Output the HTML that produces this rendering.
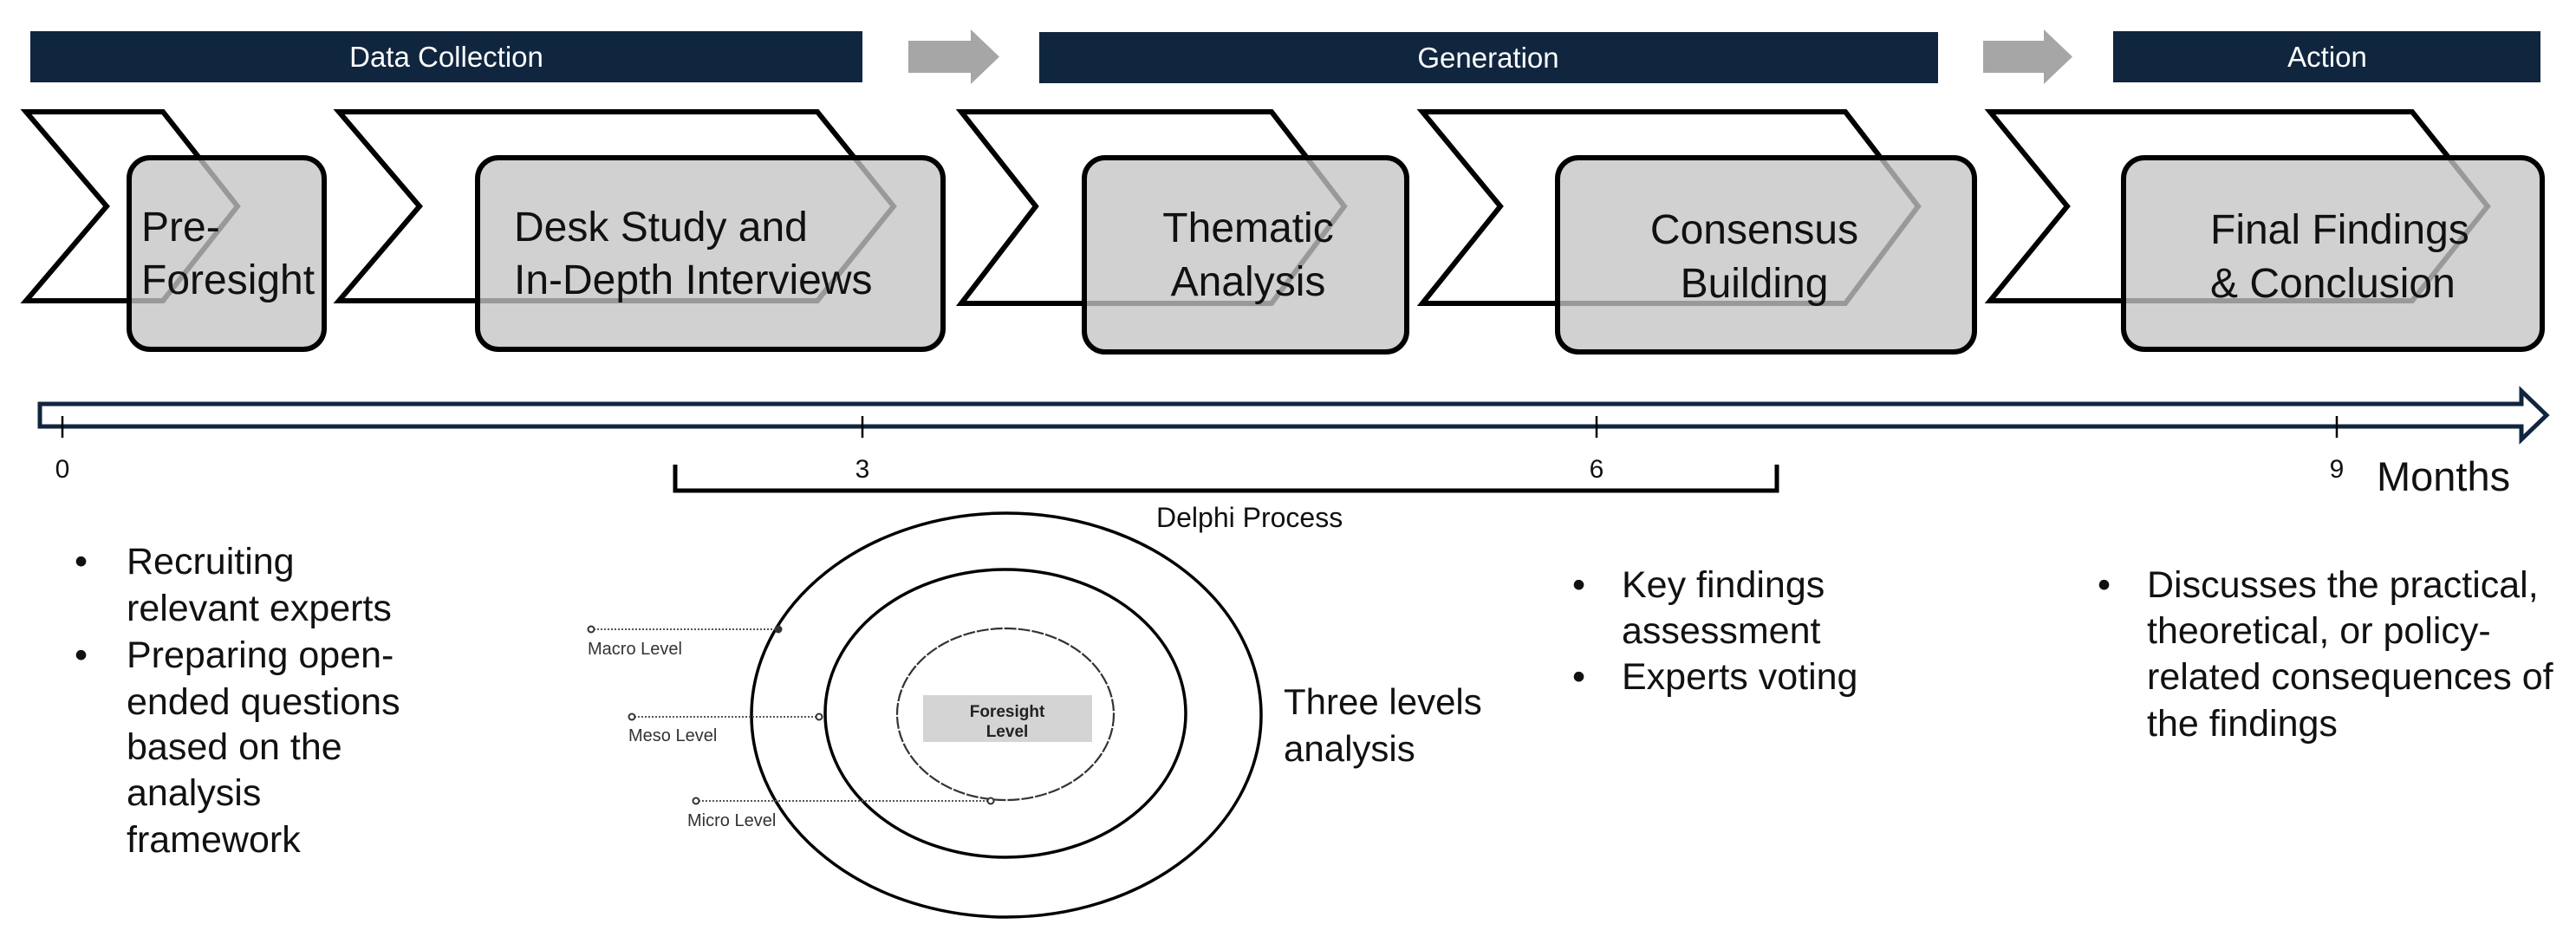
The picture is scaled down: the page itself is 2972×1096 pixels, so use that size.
<!DOCTYPE html>
<html><head><meta charset="utf-8"><style>
html,body{margin:0;padding:0;background:#fff;}
svg{display:block;}
text{font-family:"Liberation Sans",sans-serif;}
</style></head><body>
<svg width="2972" height="1096" viewBox="0 0 2972 1096" xmlns="http://www.w3.org/2000/svg">
<!-- phase bars -->
<rect x="35" y="36" width="960" height="59" fill="#10263f"/>
<text x="515" y="77" font-size="33" fill="#fff" text-anchor="middle">Data Collection</text>
<rect x="1199" y="37" width="1037" height="59" fill="#10263f"/>
<text x="1717" y="78" font-size="33" fill="#fff" text-anchor="middle">Generation</text>
<rect x="2438" y="36" width="493" height="59" fill="#10263f"/>
<text x="2685" y="77" font-size="33" fill="#fff" text-anchor="middle">Action</text>
<polygon points="1048,47 1120,47 1120,34 1153,65.5 1120,97 1120,84 1048,84" fill="#a6a6a6"/>
<polygon points="2288,47 2358,47 2358,34 2391,65.5 2358,97 2358,84 2288,84" fill="#a6a6a6"/>

<!-- chevrons -->
<g fill="none" stroke="#000" stroke-width="6" stroke-linejoin="miter">
<polygon points="30,129 188,129 274,238 188,347 30,347 123,238"/>
<polygon points="391,129 943,129 1031,238 943,347 391,347 484,238"/>
<polygon points="1109,129 1467,129 1551,238 1467,350 1109,350 1195,238"/>
<polygon points="1641,129 2129,129 2213,238 2129,350 1641,350 1731,238"/>
<polygon points="2296,129 2783,129 2870,238 2783,347 2296,347 2385,238"/>
</g>
<!-- boxes -->
<g fill="#c4c4c4" fill-opacity="0.78" stroke="#000" stroke-width="6">
<rect x="149" y="182" width="225" height="221" rx="24"/>
<rect x="551" y="182" width="537" height="221" rx="24"/>
<rect x="1251" y="182" width="372" height="224" rx="24"/>
<rect x="1797" y="182" width="481" height="224" rx="24"/>
<rect x="2450" y="182" width="483" height="221" rx="24"/>
</g>
<g font-size="48" fill="#111">
<text x="163" y="278">Pre-</text>
<text x="163" y="339">Foresight</text>
<text x="593" y="278">Desk Study and</text>
<text x="593" y="339">In-Depth Interviews</text>
<text x="1440" y="279" text-anchor="middle">Thematic</text>
<text x="1440" y="341" text-anchor="middle">Analysis</text>
<text x="2024" y="281" text-anchor="middle">Consensus</text>
<text x="2024" y="343" text-anchor="middle">Building</text>
<text x="2550" y="281">Final Findings</text>
<text x="2550" y="343">&amp; Conclusion</text>
</g>

<!-- timeline -->
<polygon points="46,466 2909,466 2909,451 2938,479 2909,507 2909,492 46,492" fill="#fff" stroke="#10263f" stroke-width="5" stroke-linejoin="miter"/>
<g stroke="#000" stroke-width="2.5">
<line x1="72" y1="480" x2="72" y2="505"/>
<line x1="995" y1="480" x2="995" y2="505"/>
<line x1="1842" y1="480" x2="1842" y2="505"/>
<line x1="2696" y1="480" x2="2696" y2="505"/>
</g>
<g font-size="30" fill="#111" text-anchor="middle">
<text x="72" y="551">0</text>
<text x="995" y="551">3</text>
<text x="1842" y="551">6</text>
<text x="2696" y="551">9</text>
</g>
<text x="2742" y="566" font-size="47" fill="#111">Months</text>

<!-- delphi bracket -->
<polyline points="779,536 779,566 2050,566 2050,536" fill="none" stroke="#000" stroke-width="5"/>
<text x="1334" y="608" font-size="32" fill="#111">Delphi Process</text>

<!-- ellipses -->
<ellipse cx="1161" cy="825" rx="294" ry="233" fill="none" stroke="#000" stroke-width="3.5"/>
<ellipse cx="1160" cy="823" rx="208" ry="166" fill="none" stroke="#000" stroke-width="3.5"/>
<ellipse cx="1160" cy="824" rx="125" ry="99" fill="none" stroke="#333" stroke-width="2.2" stroke-dasharray="14,2"/>
<rect x="1065" y="802" width="195" height="54" fill="#d4d4d4"/>
<text x="1162" y="827" font-size="19" font-weight="bold" text-anchor="middle" fill="#222">Foresight</text>
<text x="1162" y="850" font-size="19" font-weight="bold" text-anchor="middle" fill="#222">Level</text>
<g stroke="#555" stroke-width="2" stroke-dasharray="2,2" fill="none">
<line x1="685" y1="726" x2="898" y2="726"/>
<line x1="732" y1="827" x2="945" y2="827"/>
<line x1="806" y1="924" x2="1143" y2="924"/>
</g>
<g fill="#fff" stroke="#333" stroke-width="2">
<circle cx="682" cy="726" r="3.5"/><circle cx="898" cy="726" r="3.5" fill="#333"/>
<circle cx="729" cy="827" r="3.5"/><circle cx="945" cy="827" r="3.5"/>
<circle cx="803" cy="924" r="3.5"/><circle cx="1143" cy="924" r="3.5"/>
</g>
<g font-size="20" fill="#333">
<text x="678" y="755">Macro Level</text>
<text x="725" y="855">Meso Level</text>
<text x="793" y="953">Micro Level</text>
</g>
<text x="1481" y="824" font-size="42" fill="#111">Three levels</text>
<text x="1481" y="878" font-size="42" fill="#111">analysis</text>

<!-- bullets -->
<g font-size="43" fill="#111">
<text x="86" y="662">•</text><text x="146" y="662">Recruiting</text>
<text x="146" y="716">relevant experts</text>
<text x="86" y="770">•</text><text x="146" y="770">Preparing open-</text>
<text x="146" y="824">ended questions</text>
<text x="146" y="876">based on the</text>
<text x="146" y="929">analysis</text>
<text x="146" y="983">framework</text>

<text x="1814" y="689">•</text><text x="1871" y="689">Key findings</text>
<text x="1871" y="742">assessment</text>
<text x="1814" y="795">•</text><text x="1871" y="795">Experts voting</text>

<text x="2420" y="689">•</text><text x="2477" y="689">Discusses the practical,</text>
<text x="2477" y="742">theoretical, or policy-</text>
<text x="2477" y="795">related consequences of</text>
<text x="2477" y="849">the findings</text>
</g>
</svg>
</body></html>
